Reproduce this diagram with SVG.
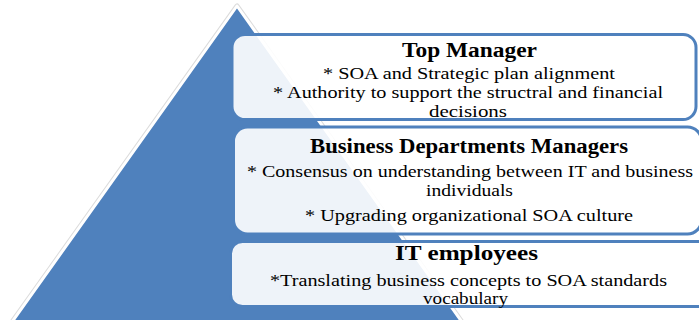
<svg xmlns="http://www.w3.org/2000/svg" width="699" height="320" viewBox="0 0 699 320">
  <style>
    .box { fill: #ffffff; fill-opacity: 0.9; stroke: #4f81bd; stroke-width: 3; }
    .title { font-family: "Liberation Serif", "Times New Roman", serif; font-size: 20px; font-weight: bold; fill: #000000; text-anchor: middle; }
    .body { font-family: "Liberation Serif", "Times New Roman", serif; font-size: 17px; fill: #000000; text-anchor: middle; }
    .small { font-size: 16px; }
  </style>

  <rect width="699" height="320" fill="#ffffff"/>

  <!-- pyramid background -->
  <g id="pyramid">
    <polygon points="237,6 12,322 462,322" fill="none" stroke="#dcdcdc" stroke-width="5" stroke-linejoin="round"/>
    <polygon points="237,6 12,322 462,322" fill="#4f81bd" stroke="#ffffff" stroke-width="3" stroke-linejoin="round"/>
  </g>

  <!-- level 1 -->
  <g id="top-manager">
    <rect class="box" x="232" y="34.5" width="464" height="85" rx="13"/>
    <text class="title" x="469.5" y="57" textLength="135" lengthAdjust="spacingAndGlyphs">Top Manager</text>
    <text class="body" x="469" y="79" textLength="292" lengthAdjust="spacingAndGlyphs">* SOA  and Strategic plan alignment</text>
    <text class="body" x="468" y="98" textLength="390" lengthAdjust="spacingAndGlyphs">* Authority to support the structral and financial</text>
    <text class="body" x="468" y="117" textLength="78" lengthAdjust="spacingAndGlyphs">decisions</text>
  </g>

  <!-- level 2 -->
  <g id="business-managers">
    <rect class="box" x="233.5" y="127" width="468" height="107" rx="14"/>
    <text class="title" x="469" y="153" textLength="318" lengthAdjust="spacingAndGlyphs">Business Departments Managers</text>
    <text class="body" x="470" y="177" textLength="446" lengthAdjust="spacingAndGlyphs">* Consensus on understanding between IT  and business</text>
    <text class="body" x="469.5" y="196" textLength="87" lengthAdjust="spacingAndGlyphs">individuals</text>
    <text class="body" x="469" y="221" textLength="328" lengthAdjust="spacingAndGlyphs">* Upgrading  organizational SOA  culture</text>
  </g>

  <!-- level 3 -->
  <g id="it-employees">
    <rect class="box" x="230.5" y="241.5" width="480" height="65" rx="12"/>
    <text class="title" x="466.5" y="260" textLength="143" lengthAdjust="spacingAndGlyphs">IT  employees</text>
    <text class="body small" x="468.5" y="286" textLength="397" lengthAdjust="spacingAndGlyphs">*Translating business concepts to SOA standards</text>
    <text class="body small" x="465.5" y="304" textLength="85" lengthAdjust="spacingAndGlyphs">vocabulary</text>
  </g>

  <g id="connectors"/>
</svg>
